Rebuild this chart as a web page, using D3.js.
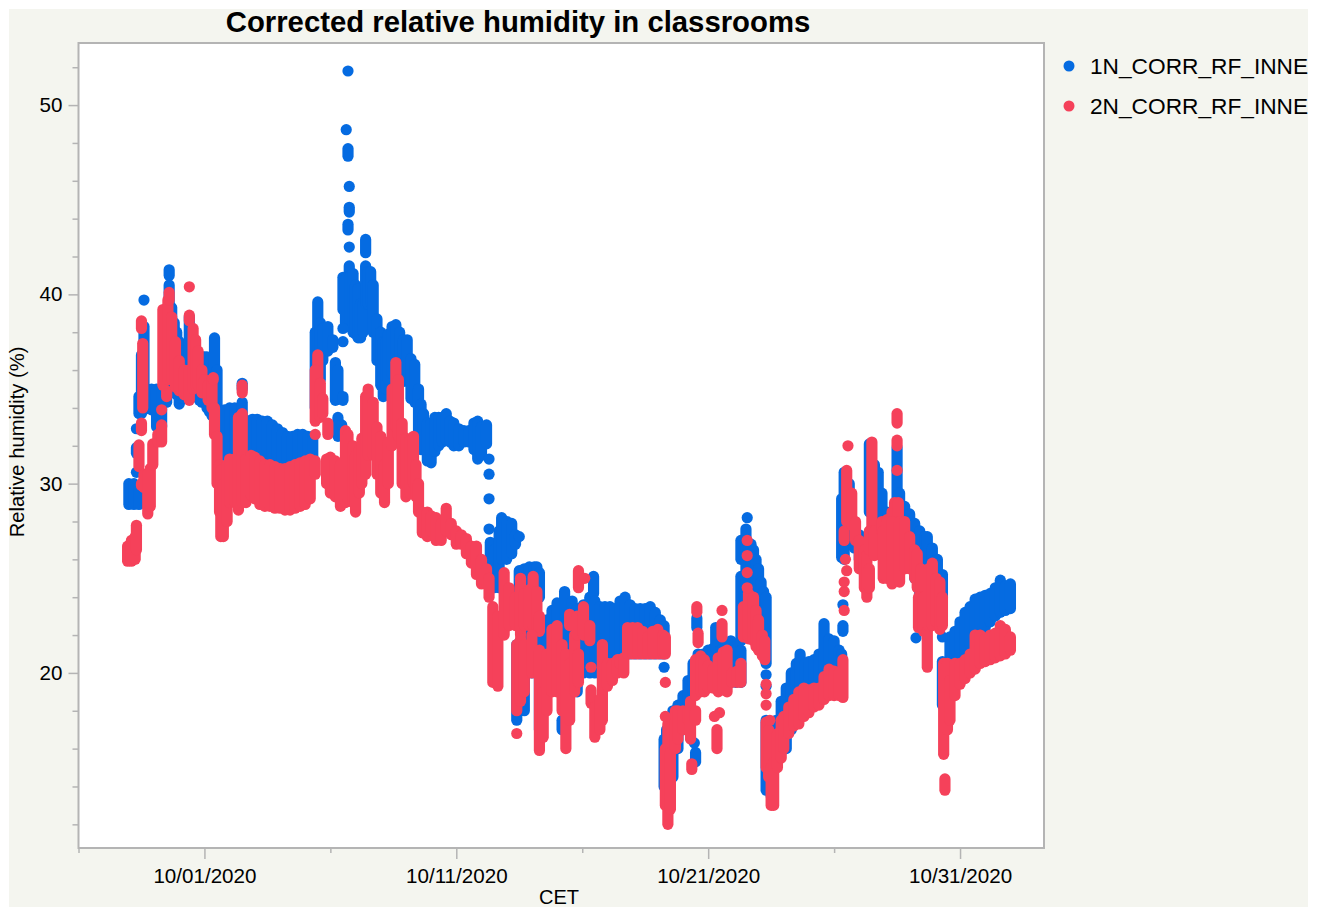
<!DOCTYPE html>
<html lang="en">

<head>
    <meta charset="UTF-8">
    <title>Corrected relative humidity in classrooms</title>
    <style>
        body {
            margin: 0;
            padding: 0;
            background: #fff;
        }

        svg {
            display: block;
        }

        text {
            font-family: "Liberation Sans", Arial, sans-serif;
            fill: #000;
        }
    </style>
</head>

<body>

    <script src="https://d3js.org/d3.v7.min.js"></script>
    <script>
        const width = 1320
        const height = 909

        const titleText = 'Corrected relative humidity in classrooms'
        const xLabel = 'CET'
        const yLabel = 'Relative humidity (%)'
        const seriesNames = ['1N_CORR_RF_INNE', '2N_CORR_RF_INNE']
        const seriesColors = ['#056be1', '#f5415a']

        const xMajorTicks = ['2020-10-01', '2020-10-11', '2020-10-21', '2020-10-31']
        const xMinorTicks = ['2020-09-26', '2020-10-06', '2020-10-16', '2020-10-26']
        const yMajorTicks = [20, 30, 40, 50]
        const yMinorTicks = [12, 14, 16, 18, 22, 24, 26, 28, 32, 34, 36, 38, 42, 44, 46, 48, 52]

        // readings: [days after 10/01, lowest, highest]
        // the cloud is too dense to separate, so each row is one stack of readings
        const blueRows = [
            [-3, 28.9, 30], [-2.8, 28.9, 30], [-2.6, 28.9, 29.8], [-2.7, 30.6, 30.6], [-2.7, 31.6, 31.9], [-2.7, 32.9, 32.9],
            [-2.6, 33.7, 34.6], [-2.5, 33.7, 36.8], [-2.4, 33.9, 38.3], [-2.4, 39.7, 39.7], [-2.3, 34, 35], [-2.1, 33.9, 35],
            [-1.9, 33, 35], [-1.7, 33, 35], [-1.5, 34.3, 37], [-1.4, 35.2, 40.5], [-1.4, 41, 41.3], [-1.3, 35.3, 39.3],
            [-1.2, 35, 38.5], [-1.1, 34.7, 38], [-1, 34.2, 37.5], [-0.9, 34.5, 37], [-0.8, 34.5, 36.5], [-0.7, 34.6, 37],
            [-0.6, 34.6, 38.8], [-0.5, 34.8, 38], [-0.4, 34.8, 37], [-0.3, 34.6, 36], [-0.2, 34.4, 36.5], [-0.1, 34.3, 36.7],
            [0, 34.3, 36.7], [0.1, 34, 36.7], [0.2, 33.8, 36.5], [0.3, 33.6, 36], [0.4, 33.7, 37.7], [0.5, 33, 36],
            [0.6, 31.5, 33.2], [0.7, 31.5, 33.7], [0.8, 31.5, 33.9], [1, 31.5, 34], [1.2, 31.5, 34], [1.4, 31.5, 33.7],
            [1.5, 32, 34.3], [1.5, 35, 35.3], [1.7, 31.5, 33.3], [1.9, 31.5, 33.4], [2.1, 31, 33.4], [2.3, 31, 33.3],
            [2.5, 31, 33.3], [2.7, 31, 33.1], [2.9, 31, 32.9], [3.1, 31, 32.7], [3.3, 31, 32.5], [3.5, 31, 32.5],
            [3.7, 31, 32.6], [3.9, 31, 32.6], [4.1, 31, 32.5], [4.3, 31, 32.5], [4.4, 34, 38], [4.5, 34.8, 39.6],
            [4.6, 35.5, 38.5], [4.7, 36.5, 38.2], [4.9, 37, 38.3], [5.1, 37.2, 37.6], [5.2, 34.4, 36.4], [5.3, 34.5, 36],
            [5.5, 34.4, 34.6], [5.3, 32.5, 33.5], [5.45, 33.1, 33.1], [5.5, 38.2, 38.2], [5.5, 37.5, 37.5],
            [5.7, 51.8, 51.8], [5.63, 48.7, 48.7], [5.7, 47.3, 47.7], [5.75, 45.7, 45.7], [5.75, 44.35, 44.6], [5.7, 43.4, 43.7],
            [5.75, 42.5, 42.5], [5.75, 38.3, 41.5], [5.5, 39.2, 40.9], [5.6, 38.3, 40.8], [5.8, 38.5, 41], [5.9, 38, 41.1],
            [6, 37.9, 40.5], [6.1, 37.7, 40.3], [6.2, 37.7, 39.5], [6.3, 38, 39.5], [6.4, 39.5, 41.5], [6.4, 42.2, 42.9],
            [6.5, 39.5, 41.2], [6.6, 39.6, 41.2], [6.7, 38, 40.5], [6.85, 36.5, 38.7], [7, 35.2, 38], [7.1, 34.6, 37.5],
            [7.2, 35, 37.5], [7.3, 35.5, 37.9], [7.45, 35.8, 38.3], [7.6, 35.8, 38.4], [7.75, 35.8, 38], [7.9, 35.4, 37.6],
            [8.05, 35.5, 37.6], [8.2, 34.5, 36.6], [8.35, 34.3, 36.3], [8.5, 32.6, 35], [8.6, 31.8, 34.2], [8.7, 32, 33.7],
            [8.85, 31.2, 33.2], [9, 31.1, 33.2], [9.15, 31.7, 33.5], [9.3, 32, 33.5], [9.45, 32.2, 33.5], [9.6, 32.3, 33.7],
            [9.75, 32.2, 33.3], [9.9, 32, 33.2], [10.1, 32, 32.9], [10.3, 32.2, 32.8], [10.5, 32.2, 32.8], [10.7, 31.8, 33.2],
            [10.85, 31.3, 33.3], [11, 31.5, 33], [11.2, 32.1, 33.1], [11.3, 31.3, 31.3], [11.3, 30.5, 30.5], [11.3, 29.2, 29.2],
            [11.3, 27.6, 27.6], [11.35, 26, 26.9], [11.5, 24.5, 26.5], [11.7, 24.5, 27.5], [11.8, 26, 28.2], [12, 26, 28],
            [12.2, 26.3, 27.9], [12.35, 26.8, 27.3], [12.5, 27.2, 27.2], [12.5, 24, 25.4], [12.7, 24.3, 25.5], [12.9, 24.4, 25.6],
            [13.1, 24.3, 25.6], [13.2, 24.4, 25.6], [13.3, 24, 25.3], [12.4, 17.5, 21.5], [12.7, 18, 22], [13, 20, 23],
            [13.3, 17, 20.5], [13.4, 18, 22], [13.6, 20, 22.8], [13.8, 20, 23.3], [14, 20, 23.7], [14.2, 17, 17.5],
            [14.3, 20, 24.3], [14.6, 19, 23.8], [14.8, 19, 23.4], [15.05, 20, 23.6], [15.3, 20, 24], [15.45, 24.2, 25.1],
            [15.5, 20, 23.8], [15.7, 20.5, 23.5], [15.9, 21, 23.5], [16.1, 21, 23.5], [16.3, 21.2, 23.4], [16.5, 21, 23.8],
            [16.7, 21, 24], [16.9, 21, 23.6], [17.1, 21, 23.4], [17.3, 21, 23.4], [17.5, 21, 23.4], [17.7, 21, 23.5],
            [17.9, 21, 23.2], [18.1, 21, 22.8], [18.25, 21, 22.5], [18.25, 20.3, 20.3], [18.25, 14, 16.5], [18.35, 13, 17],
            [18.6, 14.5, 18], [18.8, 16, 18.3], [19, 17, 18.8], [19.2, 18, 19.6], [19.4, 19, 20.5], [19.6, 20, 21],
            [19.55, 22.4, 22.9], [19.45, 16.3, 16.3], [19.5, 15.3, 15.8], [19.8, 20, 21], [20, 19.5, 21.2], [20.2, 19.5, 21.3],
            [20.3, 21.3, 22.4], [20.5, 19.5, 21.2], [20.7, 19.5, 21.5], [20.9, 19.5, 21.7], [21.1, 19.5, 21.4], [21.3, 19.5, 21.2],
            [21.3, 21.7, 25.1], [21.3, 26, 27], [21.5, 22, 27.6], [21.55, 28.2, 28.2], [21.7, 22, 26.8], [21.8, 22, 26.5],
            [21.9, 23, 26], [22, 22, 25.5], [22.1, 22, 24.8], [22.2, 21.5, 24.3], [22.3, 20.5, 24], [22.3, 19.9, 19.9],
            [22.3, 19.3, 19.3], [22.3, 13.8, 17.5], [22.5, 13.5, 16], [22.7, 15, 17.5], [22.9, 16, 18.5], [23.1, 16, 19.2],
            [23.3, 17, 20], [23.5, 17.5, 20.5], [23.65, 18, 21], [23.85, 18.3, 20.5], [24, 18.7, 20.6], [24.2, 19, 20.7],
            [24.4, 19, 21], [24.6, 19.5, 22.6], [24.8, 19.5, 21.8], [25, 19.5, 21.7], [25.2, 19, 21.2], [25.3, 19, 21],
            [25.35, 22.2, 22.5], [25.35, 23.6, 23.6], [25.3, 26.1, 29.2], [25.4, 26, 30.6], [25.6, 27, 30], [25.8, 26.6, 28],
            [26, 26, 27.3], [26.2, 25.5, 27], [26.4, 28.5, 32.1], [26.6, 27.5, 31], [26.75, 28, 30.6], [26.9, 28, 29.5],
            [27.1, 28, 28.5], [27.3, 28, 28.5], [27.5, 28, 31.9], [27.6, 27, 29.5], [27.8, 26, 28.8], [28, 26, 28.4],
            [28.2, 25, 27.9], [28.4, 24, 27.5], [28.6, 23.5, 27.2], [28.7, 23, 27.2], [28.9, 23, 26.6], [29.1, 23, 26],
            [29.3, 23, 25.2], [28.25, 21.85, 21.85], [29.3, 21.9, 21.9], [29.3, 18.3, 20.6], [29.6, 20.2, 21.9], [29.8, 20.4, 22.2],
            [30, 20.6, 22.7], [30.2, 21, 23.2], [30.4, 21.5, 23.5], [30.6, 22, 23.9], [30.8, 22.3, 24], [31, 22.4, 24.1],
            [31.2, 22.7, 24.2], [31.4, 23, 24.5], [31.6, 23.2, 24.9], [31.8, 23.3, 24.6], [32, 23.4, 24.7]
        ]

        const redRows = [
            [-3.05, 25.9, 26.7], [-2.9, 25.9, 27], [-2.75, 26, 27.2], [-2.7, 26.5, 27.8], [-2.6, 30.9, 32.05], [-2.5, 32.8, 33.2],
            [-2.45, 34, 37.4], [-2.5, 38.2, 38.6], [-2.5, 29.9, 30], [-2.4, 29.8, 30.5], [-2.25, 28.4, 30.5], [-2.15, 28.8, 30.8],
            [-2.05, 31, 32.1], [-1.85, 32.2, 32.6], [-1.7, 32.2, 33.1], [-1.7, 33.9, 33.9], [-1.5, 34.6, 34.9], [-1.65, 35.2, 39.2],
            [-1.45, 35.5, 39.7], [-1.4, 39.7, 40.1], [-1.3, 35.5, 38.8], [-1.15, 35.1, 37.5], [-1, 34.9, 36.5], [-0.8, 34.7, 36],
            [-0.6, 34.4, 36], [-0.6, 40.4, 40.4], [-0.6, 38.6, 38.9], [-0.45, 35, 38.2], [-0.35, 35.2, 37.6], [-0.25, 35.2, 37],
            [-0.1, 34.8, 36], [0, 34.8, 35.5], [0.15, 34.4, 35.2], [0.3, 34, 35.5], [0.35, 35.5, 35.6], [0.4, 32.6, 34],
            [0.5, 30, 32.5], [0.6, 28.5, 31], [0.65, 27.2, 30.7], [0.75, 27.2, 30], [0.9, 28, 31], [1, 29, 31.3],
            [1.2, 29, 31.3], [1.35, 28.6, 33.5], [1.5, 29, 33.7], [1.5, 34.8, 35.2], [1.65, 29, 31.3], [1.85, 29.4, 31.5],
            [2, 29.2, 31.4], [2.2, 28.9, 31.2], [2.4, 28.8, 31], [2.6, 28.8, 31], [2.8, 28.7, 30.9], [3, 28.7, 30.8],
            [3.2, 28.6, 30.8], [3.4, 28.6, 30.9], [3.6, 28.7, 31], [3.8, 28.8, 31.1], [4, 28.9, 31.2], [4.2, 29.2, 31.3],
            [4.4, 30.5, 31.2], [4.5, 33.5, 36.8], [4.4, 33.3, 36], [4.4, 32.6, 32.6], [4.6, 33.5, 35.3], [4.7, 33.7, 34.5],
            [4.9, 32.6, 33.2], [4.85, 30, 31.3], [5, 29.5, 31.4], [5.2, 29.3, 31.2], [5.4, 28.8, 31], [5.6, 29, 32.8],
            [5.7, 29.2, 32.6], [5.9, 29, 32], [6, 28.5, 31.5], [6.15, 29.5, 31.8], [6.25, 30, 32.4], [6.4, 30.5, 34.6],
            [6.5, 31.5, 35], [6.7, 31.5, 34.3], [6.85, 30.5, 33], [7, 29.5, 32.5], [7.15, 29, 31], [7.3, 30, 32.2],
            [7.45, 32, 35], [7.6, 33, 36.4], [7.7, 32.5, 35.5], [7.85, 30, 33.2], [8, 29.3, 32.4], [8.15, 29.5, 32.3],
            [8.3, 30, 32.5], [8.4, 29.3, 31], [8.5, 28.5, 30], [8.65, 27.4, 28.5], [8.85, 27.2, 28.5], [9, 27.5, 28.3],
            [9.2, 27, 28.2], [9.4, 27, 27.9], [9.6, 27.5, 28.7], [9.8, 27.3, 27.9], [10, 26.8, 27.5], [10.2, 26.8, 27.3],
            [10.4, 26.3, 27.1], [10.6, 25.8, 26.7], [10.8, 25.2, 26.7], [11, 24.7, 26], [11.2, 24.7, 25.5], [11.3, 24, 25],
            [11.45, 19.5, 23.5], [11.65, 19.3, 23], [11.9, 22, 25.3], [12.1, 22.5, 24.5], [12.35, 22.5, 24], [12.55, 22, 25],
            [12.7, 22.5, 24.2], [12.9, 22.5, 24.4], [13.05, 22.5, 25.1], [13.2, 22.3, 24.3], [13.3, 22.2, 23], [12.4, 16.8, 16.8],
            [12.4, 18, 21.5], [12.55, 18.5, 21.8], [12.7, 19, 21.5], [13, 20, 22], [13.3, 15.9, 21.2], [13.45, 16.6, 19],
            [13.6, 18, 21], [13.8, 19, 22.3], [14, 19, 22.5], [14.2, 18, 21.5], [14.35, 16, 21], [14.5, 17.5, 20.5],
            [14.7, 19, 22], [14.85, 19.5, 21], [14.5, 22.5, 23.1], [14.8, 22, 23], [15.05, 22, 23.5], [15.3, 21.7, 22.5],
            [14.85, 24.5, 25.4], [15.1, 25, 25], [15.35, 20.3, 20.3], [15.35, 18.4, 19.1], [15.8, 17.5, 21.5], [15.5, 16.6, 18.2],
            [15.7, 17, 18.6], [16, 19.3, 20.5], [16.2, 19.6, 20.5], [16.4, 20, 20.7], [16.5, 20.5, 20.7], [16.65, 20, 20.8],
            [16.8, 21, 22.4], [17, 21, 22.4], [17.2, 21, 22.4], [17.4, 21, 22.2], [17.6, 21, 21.9], [17.8, 21, 22.2],
            [18, 21, 22.3], [18.2, 21, 22], [18.3, 21, 21.9], [18.3, 19.5, 19.5], [18.3, 17.7, 17.7], [18.3, 13, 16],
            [18.4, 12, 17.3], [18.5, 12.8, 15.8], [18.7, 16, 18], [18.8, 16.5, 18], [19, 17, 18], [19.2, 17.5, 18],
            [19.3, 16.5, 18.5], [19.35, 14.9, 15.2], [19.5, 17.5, 18], [19.5, 18.8, 20.7], [19.55, 23.2, 23.5], [19.6, 21.6, 22.1],
            [19.7, 19, 20.9], [19.85, 19, 20.7], [20, 19.2, 20.4], [20.2, 19.2, 20.2], [20.4, 19, 20.8], [20.6, 19.1, 21.1],
            [20.75, 19, 21.2], [20.95, 19.5, 20], [21.15, 19.5, 20.1], [21.3, 19.5, 20.5], [20.55, 21.9, 22.6], [20.55, 23.3, 23.3],
            [20.45, 17.9, 17.9], [20.25, 17.7, 17.7], [20.35, 16, 17], [21.55, 27, 27], [21.55, 26.2, 26.2], [21.55, 25.3, 25.3],
            [21.55, 24.5, 24.5], [21.4, 21.9, 23.5], [21.6, 21.8, 24.2], [21.8, 21.7, 24], [21.9, 21.4, 23.3], [22, 21.2, 22.8],
            [22.15, 20.9, 22], [22.25, 20.7, 21.7], [22.3, 19.4, 19.4], [22.3, 18.9, 18.9], [22.3, 18.3, 18.3], [22.45, 17.5, 17.5],
            [22.3, 15, 17.4], [22.4, 14.5, 17], [22.5, 13, 15], [22.6, 13, 15.3], [22.75, 15, 16.8], [22.9, 15.5, 17.5],
            [23, 16, 17.7], [23.2, 16.8, 18.2], [23.4, 17.2, 18.6], [23.6, 17.3, 19], [23.8, 17.7, 19.2], [24, 17.9, 19.1],
            [24.2, 18.2, 19.2], [24.4, 18.3, 19.2], [24.6, 18.6, 19.8], [24.8, 18.8, 20.2], [25, 18.8, 20.1], [25.2, 18.8, 20],
            [25.35, 18.7, 20.7], [25.4, 23.3, 23.3], [25.4, 24.3, 24.3], [25.4, 24.8, 24.8], [25.5, 25.4, 25.4], [25.45, 26, 26],
            [25.4, 27, 27.5], [25.5, 28, 30.7], [25.55, 32, 32], [25.7, 27.8, 29.5], [25.85, 27, 28], [26, 25.5, 27],
            [26.2, 24.5, 26.5], [26.3, 24, 26.2], [26.4, 24.5, 25.5], [26.5, 27.5, 32.2], [26.4, 26.5, 27.5], [26.6, 26.2, 27.5],
            [26.9, 27.5, 28], [27.1, 27.7, 28.1], [27.3, 27.8, 28.5], [27.4, 25.5, 29], [27.55, 25.5, 29], [27.5, 30.7, 30.7],
            [27.5, 32, 32.3], [27.5, 33.2, 33.7], [26.95, 25, 27.5], [27.1, 25, 28], [27.3, 24.7, 28], [27.6, 24.8, 28],
            [27.8, 25.5, 28], [28, 25.5, 27.2], [28.2, 25, 26.5], [28.3, 24.5, 26.3], [28.45, 23, 25.5], [28.35, 22.4, 24],
            [28.55, 22.2, 24], [28.7, 20.3, 22.2], [28.75, 22.5, 25.5], [28.9, 22.5, 25.8], [29.05, 22.7, 25], [29.2, 22.3, 24.8],
            [29.3, 22.5, 24], [29.35, 15.7, 20.5], [29.4, 13.8, 14.4], [29.5, 17, 20.5], [29.6, 17.5, 19.6], [29.8, 18.8, 20.5],
            [30, 19.4, 20.5], [30.2, 19.7, 20.7], [30.4, 20, 21], [30.6, 20.2, 22], [30.8, 20.5, 22], [31, 20.6, 21.8],
            [31.2, 20.7, 22], [31.4, 20.8, 22.1], [31.6, 20.9, 22.5], [31.8, 21, 22.3], [32, 21.2, 21.9]
        ]

        const plot = { left: 78.5, right: 1044, top: 43, bottom: 848 }
        const dotRadius = 5.6
        const axisColor = '#b4b4b4'
        const startDate = Date.UTC(2020, 9, 1)

        const toDate = d => new Date(startDate + d * 864e5)

        const x = d3.scaleUtc()
            .domain([new Date('2020-09-26T00:00Z'), new Date('2020-11-03T08:00Z')])
            .range([plot.left, plot.right])

        const y = d3.scaleLinear()
            .domain([10.75, 53.28])
            .range([plot.bottom, plot.top])

        const svg = d3.select('body')
            .append('svg')
            .attr('width', width)
            .attr('height', height)

        svg.append('rect')
            .attr('x', 9)
            .attr('y', 9)
            .attr('width', 1299)
            .attr('height', 898)
            .attr('fill', '#f4f5ef')

        svg.append('rect')
            .attr('x', plot.left)
            .attr('y', plot.top)
            .attr('width', plot.right - plot.left)
            .attr('height', plot.bottom - plot.top)
            .attr('fill', '#fff')

        function drawSeries(rows, color) {
            const g = svg.append('g')

            g.selectAll('line')
                .data(rows.filter(d => d[1] !== d[2]))
                .join('line')
                .attr('x1', d => x(toDate(d[0])))
                .attr('x2', d => x(toDate(d[0])))
                .attr('y1', d => y(d[1]))
                .attr('y2', d => y(d[2]))
                .attr('stroke', color)
                .attr('stroke-width', dotRadius * 2)
                .attr('stroke-linecap', 'round')

            g.selectAll('circle')
                .data(rows.filter(d => d[1] === d[2]))
                .join('circle')
                .attr('cx', d => x(toDate(d[0])))
                .attr('cy', d => y(d[1]))
                .attr('r', dotRadius)
                .attr('fill', color)
        }

        drawSeries(blueRows, seriesColors[0])
        drawSeries(redRows, seriesColors[1])

        svg.append('rect')
            .attr('x', plot.left)
            .attr('y', plot.top)
            .attr('width', plot.right - plot.left)
            .attr('height', plot.bottom - plot.top)
            .attr('fill', 'none')
            .attr('stroke', axisColor)
            .attr('stroke-width', 2)

        function styleAxis(g) {
            g.select('.domain').remove()
            g.selectAll('.tick line').attr('stroke', axisColor).attr('stroke-width', 1.5)
            g.selectAll('.tick text').attr('font-size', 20.6).attr('font-family', '"Liberation Sans", Arial, sans-serif').attr('fill', '#000')
        }

        const parseDay = d => new Date(d + 'T00:00Z')

        svg.append('g')
            .attr('transform', `translate(0,${plot.bottom})`)
            .call(d3.axisBottom(x).tickValues(xMajorTicks.map(parseDay)).tickSize(11).tickPadding(9).tickFormat(d3.utcFormat('%m/%d/%Y')))
            .call(styleAxis)

        svg.append('g')
            .attr('transform', `translate(0,${plot.bottom})`)
            .call(d3.axisBottom(x).tickValues(xMinorTicks.map(parseDay)).tickSize(5).tickFormat(''))
            .call(styleAxis)

        svg.append('g')
            .attr('transform', `translate(${plot.left},0)`)
            .call(d3.axisLeft(y).tickValues(yMajorTicks).tickSize(10).tickPadding(6).tickFormat(d3.format('d')))
            .call(styleAxis)

        svg.append('g')
            .attr('transform', `translate(${plot.left},0)`)
            .call(d3.axisLeft(y).tickValues(yMinorTicks).tickSize(6).tickFormat(''))
            .call(styleAxis)

        svg.append('text')
            .attr('x', 518)
            .attr('y', 32)
            .attr('text-anchor', 'middle')
            .attr('font-size', 29.3)
            .attr('font-weight', 'bold')
            .text(titleText)

        svg.append('text')
            .attr('x', 559)
            .attr('y', 904)
            .attr('text-anchor', 'middle')
            .attr('font-size', 20)
            .text(xLabel)

        svg.append('text')
            .attr('transform', 'translate(24,442) rotate(-90)')
            .attr('text-anchor', 'middle')
            .attr('font-size', 20.2)
            .text(yLabel)

        const legend = svg.append('g')
            .selectAll('g')
            .data(seriesNames)
            .join('g')
            .attr('transform', (d, i) => `translate(1069,${66 + i * 40})`)

        legend.append('circle')
            .attr('r', 5.5)
            .attr('fill', (d, i) => seriesColors[i])

        legend.append('text')
            .attr('x', 21)
            .attr('y', 8)
            .attr('font-size', 22.7)
            .text(d => d)
    </script>

</body>

</html>
